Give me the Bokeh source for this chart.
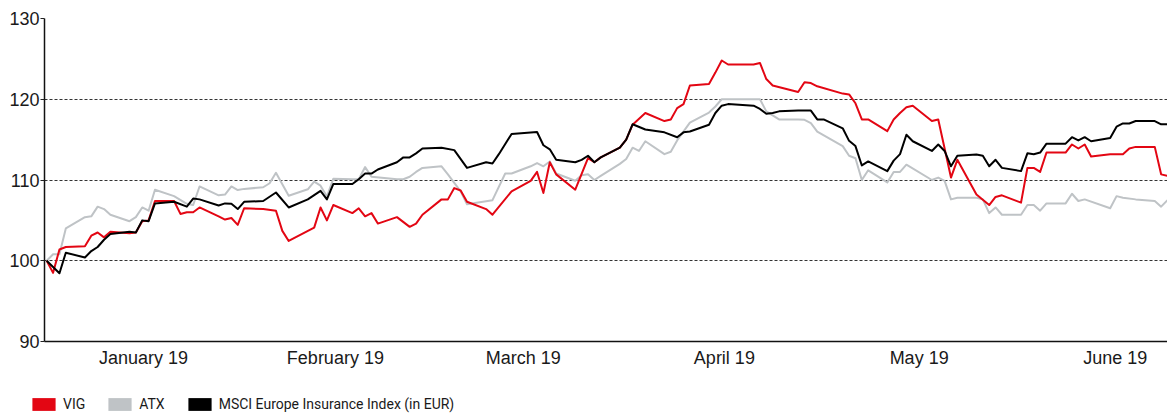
import pandas as pd
from bokeh.plotting import figure
from bokeh.layouts import column
from bokeh.models import ColumnDataSource, Range1d, FixedTicker, Legend, LegendItem
from bokeh.embed import file_html
from bokeh.resources import INLINE

# ---------------- data (indexed, 1 Jan 2019 = 100) ----------------
vig_dates = ["01-01", "01-02", "01-03", "01-04", "01-07", "01-08", "01-09", "01-10", "01-11", "01-14",
             "01-15", "01-16", "01-17", "01-18", "01-21", "01-22", "01-23", "01-24", "01-25", "01-28",
             "01-29", "01-30", "01-31", "02-01", "02-04", "02-06", "02-07", "02-08", "02-12", "02-13",
             "02-14", "02-15", "02-18", "02-19", "02-20", "02-21", "02-22", "02-25", "02-27", "02-28",
             "03-01", "03-04", "03-05", "03-06", "03-07", "03-08", "03-11", "03-12", "03-15", "03-18",
             "03-19", "03-20", "03-21", "03-22", "03-25", "03-27", "03-28", "03-29", "04-01", "04-02",
             "04-03", "04-05", "04-08", "04-09", "04-10", "04-11", "04-12", "04-15", "04-16", "04-17",
             "04-18", "04-22", "04-23", "04-24", "04-25", "04-29", "04-30", "05-01", "05-02", "05-06",
             "05-07", "05-08", "05-09", "05-10", "05-13", "05-14", "05-15", "05-16", "05-17", "05-20",
             "05-21", "05-23", "05-24", "05-27", "05-29", "05-30", "05-31", "06-03", "06-04", "06-05",
             "06-06", "06-07", "06-10", "06-11", "06-12", "06-13", "06-14", "06-17", "06-19", "06-20",
             "06-21", "06-24", "06-25", "06-26"]
vig_values = [100.0, 98.5, 101.4, 101.7, 101.8, 103.1, 103.5, 102.9, 103.6, 103.4,
              103.5, 104.9, 105.0, 107.4, 107.4, 105.8, 106.0, 106.0, 106.6, 105.5,
              105.1, 105.3, 104.45, 106.5, 106.4, 106.2, 103.7, 102.45, 104.1, 106.6,
              105.0, 106.9, 105.9, 106.5, 105.5, 105.9, 104.6, 105.4, 104.2, 104.6,
              105.7, 107.6, 107.6, 109.0, 108.7, 107.3, 106.4, 105.7, 108.6, 109.9,
              111.0, 108.4, 112.2, 110.7, 108.8, 112.7, 112.2, 112.8, 114.0, 115.0,
              116.85, 118.3, 117.3, 117.5, 118.9, 119.4, 121.7, 121.9, 123.3, 124.8,
              124.3, 124.3, 124.5, 122.5, 121.7, 120.9, 122.1, 122.0, 121.6, 120.7,
              120.6, 119.5, 117.5, 117.5, 116.05, 117.5, 118.3, 119.0, 119.2, 117.3,
              117.5, 110.3, 112.5, 108.2, 106.9, 107.9, 108.1, 107.2, 111.5, 111.5,
              111.0, 113.4, 113.4, 114.4, 113.9, 114.4, 112.9, 113.2, 113.2, 113.9,
              114.1, 114.1, 110.7, 110.5]

atx_dates = ["01-01", "01-02", "01-03", "01-04", "01-07", "01-08", "01-09", "01-10", "01-11", "01-14",
             "01-15", "01-16", "01-17", "01-18", "01-21", "01-23", "01-24", "01-25", "01-28", "01-29",
             "01-30", "01-31", "02-01", "02-04", "02-05", "02-06", "02-08", "02-11", "02-12", "02-13",
             "02-14", "02-15", "02-18", "02-19", "02-20", "02-21", "02-25", "02-26", "02-27", "02-28",
             "03-01", "03-04", "03-05", "03-07", "03-08", "03-12", "03-14", "03-15", "03-18", "03-19",
             "03-20", "03-21", "03-22", "03-25", "03-26", "03-27", "03-28", "03-29", "04-01", "04-02",
             "04-03", "04-04", "04-05", "04-08", "04-09", "04-10", "04-12", "04-15", "04-16", "04-17",
             "04-18", "04-22", "04-23", "04-24", "04-26", "04-29", "04-30", "05-01", "05-02", "05-06",
             "05-07", "05-08", "05-09", "05-10", "05-13", "05-14", "05-15", "05-16", "05-20", "05-21",
             "05-22", "05-23", "05-24", "05-27", "05-28", "05-29", "05-30", "05-31", "06-03", "06-04",
             "06-05", "06-06", "06-07", "06-10", "06-11", "06-12", "06-13", "06-17", "06-18", "06-19",
             "06-21", "06-24", "06-25", "06-26"]
atx_values = [100.0, 100.8, 100.8, 104.0, 105.4, 105.5, 106.7, 106.4, 105.7, 104.9,
              105.4, 106.6, 106.2, 108.8, 108.0, 107.05, 106.9, 109.2, 108.1, 108.2,
              109.2, 108.75, 108.9, 109.1, 109.6, 110.9, 108.05, 108.85, 109.8, 109.3,
              107.95, 110.15, 110.1, 110.1, 111.6, 110.4, 110.1, 110.1, 110.4, 111.0,
              111.5, 111.7, 110.7, 108.6, 107.0, 107.5, 110.8, 110.8, 111.7, 112.1,
              111.7, 112.3, 110.8, 109.9, 110.6, 110.7, 110.0, 110.5, 112.0, 112.6,
              114.0, 113.6, 114.8, 113.2, 113.5, 114.9, 117.1, 118.35, 119.1, 120.0,
              120.0, 120.0, 120.0, 118.5, 117.5, 117.5, 117.45, 117.05, 116.0, 114.2,
              113.0, 112.7, 110.0, 111.2, 109.7, 111.0, 111.0, 111.9, 110.0, 110.3,
              109.9, 107.6, 107.8, 107.8, 107.6, 105.9, 106.6, 105.7, 105.7, 106.9,
              106.9, 106.2, 107.1, 107.1, 108.3, 107.4, 107.6, 106.5, 108.0, 107.8,
              107.6, 107.4, 106.7, 107.5]

msci_dates = ["01-01", "01-03", "01-04", "01-07", "01-08", "01-09", "01-10", "01-11", "01-14", "01-15",
              "01-16", "01-17", "01-18", "01-21", "01-23", "01-24", "01-25", "01-28", "01-29", "01-30",
              "01-31", "02-01", "02-04", "02-06", "02-08", "02-11", "02-13", "02-14", "02-15", "02-18",
              "02-19", "02-20", "02-21", "02-22", "02-25", "02-26", "02-27", "02-28", "03-01", "03-04",
              "03-06", "03-08", "03-11", "03-12", "03-13", "03-15", "03-19", "03-20", "03-21", "03-22",
              "03-25", "03-26", "03-27", "03-28", "03-29", "04-01", "04-02", "04-03", "04-05", "04-08",
              "04-10", "04-11", "04-12", "04-15", "04-16", "04-17", "04-18", "04-22", "04-23", "04-24",
              "04-25", "04-26", "04-29", "04-30", "05-01", "05-02", "05-03", "05-06", "05-07", "05-08",
              "05-09", "05-10", "05-13", "05-14", "05-15", "05-16", "05-17", "05-20", "05-21", "05-22",
              "05-23", "05-24", "05-27", "05-28", "05-29", "05-30", "05-31", "06-03", "06-04", "06-05",
              "06-06", "06-07", "06-10", "06-11", "06-12", "06-13", "06-14", "06-17", "06-18", "06-19",
              "06-20", "06-21", "06-24", "06-25", "06-26"]
msci_values = [100.0, 98.45, 101.0, 100.4, 101.2, 101.7, 102.6, 103.3, 103.6, 103.5,
               105.0, 104.9, 107.1, 107.3, 106.7, 107.7, 107.6, 106.85, 107.1, 107.05,
               106.4, 107.3, 107.4, 108.45, 106.6, 107.6, 108.65, 107.6, 109.5, 109.5,
               110.1, 110.8, 110.8, 111.3, 112.2, 112.8, 112.8, 113.3, 113.9, 114.0,
               113.7, 111.5, 112.2, 112.05, 113.2, 115.7, 115.95, 114.3, 113.8, 112.5,
               112.2, 112.5, 113.0, 112.2, 112.8, 114.0, 115.0, 116.9, 116.25, 115.9,
               115.3, 115.9, 116.0, 116.85, 118.3, 119.2, 119.4, 119.2, 118.8, 118.2,
               118.3, 118.5, 118.6, 118.6, 118.6, 117.5, 117.5, 116.4, 114.85, 114.2,
               111.8, 112.3, 111.1, 112.4, 113.2, 115.6, 114.8, 113.6, 114.4, 113.6,
               111.7, 113.0, 113.15, 113.0, 111.7, 112.5, 111.5, 111.1, 113.3, 113.2,
               113.4, 114.5, 114.5, 115.3, 114.9, 115.3, 114.8, 115.2, 116.6, 117.0,
               117.0, 117.3, 117.3, 116.9, 116.9]

series_names = ["VIG", "ATX", "MSCI Europe Insurance Index (in EUR)"]
y_ticks = [90, 100, 110, 120, 130]
month_labels = ["January 19", "February 19", "March 19", "April 19", "May 19", "June 19"]
month_label_pos = ["2019-01-16 05:00", "2019-02-15 08:00", "2019-03-16 20:00",
                   "2019-04-17 10:00", "2019-05-18 00:00", "2019-06-17 19:00"]

RED = "#e30613"
GREY = "#bfc3c6"
BLACK = "#000000"
FONT = "Liberation Sans"
TXT = "#1a1a1a"


def to_dt(days):
    return pd.to_datetime(["2019-" + d for d in days])


src_atx = ColumnDataSource(dict(x=to_dt(atx_dates), y=atx_values))
src_vig = ColumnDataSource(dict(x=to_dt(vig_dates), y=vig_values))
src_msci = ColumnDataSource(dict(x=to_dt(msci_dates), y=msci_values))

p = figure(width=1167, height=385, output_backend="svg", toolbar_location=None,
           x_axis_type="datetime",
           x_range=Range1d(pd.Timestamp("2018-12-31 15:40"), pd.Timestamp("2019-06-26 00:00")),
           y_range=Range1d(90, 130),
           min_border_left=44, min_border_right=0, min_border_top=18, min_border_bottom=44)
p.outline_line_color = None
p.background_fill_color = "white"
p.border_fill_color = "white"

# lines
p.line("x", "y", source=src_atx, line_color=GREY, line_width=2, line_join="round")
p.line("x", "y", source=src_vig, line_color=RED, line_width=2, line_join="round")
p.line("x", "y", source=src_msci, line_color=BLACK, line_width=2, line_join="round")

# y axis
p.yaxis.ticker = FixedTicker(ticks=y_ticks, minor_ticks=[])
p.yaxis.major_label_text_font = FONT
p.yaxis.major_label_text_font_size = "18px"
p.yaxis.major_label_text_color = TXT
p.yaxis.major_tick_in = 0
p.yaxis.major_tick_out = 4
p.yaxis.major_tick_line_color = "#222222"
p.yaxis.minor_tick_line_color = None
p.yaxis.major_label_standoff = 1
p.yaxis.axis_line_color = "#111111"
p.yaxis.axis_line_width = 1.5

# x axis
tick_ms = [int(pd.Timestamp(t).value // 10**6) for t in month_label_pos]
p.xaxis.ticker = FixedTicker(ticks=tick_ms, minor_ticks=[])
p.xaxis.major_label_overrides = {t: lab for t, lab in zip(tick_ms, month_labels)}
p.xaxis.major_label_text_font = FONT
p.xaxis.major_label_text_font_size = "18px"
p.xaxis.major_label_text_color = TXT
p.xaxis.major_tick_line_color = None
p.xaxis.minor_tick_line_color = None
p.xaxis.major_label_standoff = 0
p.xaxis.axis_line_color = "#111111"
p.xaxis.axis_line_width = 1.5

# grid
p.xgrid.visible = False
p.ygrid.ticker = FixedTicker(ticks=y_ticks[1:], minor_ticks=[])
p.ygrid.grid_line_color = "#333333"
p.ygrid.grid_line_dash = "3 2"
p.ygrid.grid_line_width = 1

# ---------------- legend strip ----------------
# the swatch renderers reuse the series data, which lies far outside this strip's
# ranges, so only their legend boxes are visible
lg = figure(width=1167, height=28, output_backend="svg", toolbar_location=None,
            x_axis_location=None, y_axis_location=None,
            x_range=Range1d(0, 1), y_range=Range1d(0, 1),
            min_border_left=0, min_border_right=0, min_border_top=0, min_border_bottom=0)
lg.grid.visible = False
lg.outline_line_color = None
leg_x = 0
if "frame_align" in lg.properties():
    lg.frame_align = False
    leg_x = 29
sw = []
for src, col in [(src_vig, RED), (src_atx, GREY), (src_msci, BLACK)]:
    sw.append(lg.varea(x="x", y1="y", y2="y", source=src, fill_color=col))

legend = Legend(items=[LegendItem(label=n, renderers=[r]) for n, r in zip(series_names, sw)],
                orientation="horizontal", location=(leg_x, 1),
                glyph_width=29, glyph_height=16, label_height=16, label_width=10,
                label_standoff=5, spacing=20, padding=0, margin=0,
                border_line_color=None, background_fill_alpha=0,
                label_text_font="Roboto", label_text_font_size="14px",
                label_text_color=TXT, label_text_baseline="middle")
lg.add_layout(legend, "center")

layout = column(p, lg, spacing=0)
open("out.html", "w").write(file_html(layout, INLINE))
